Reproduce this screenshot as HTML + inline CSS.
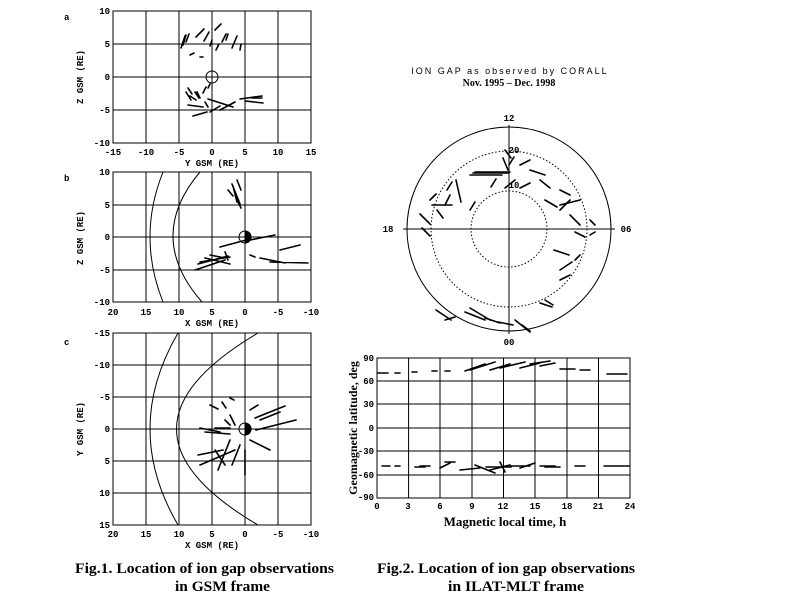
<!DOCTYPE html>
<html><head><style>
body{margin:0;background:#fff;}
svg{display:block;font-family:"Liberation Sans",sans-serif;}
.t{font-size:9px;font-weight:bold;font-family:"Liberation Mono",monospace;}
.cap{font-family:"Liberation Serif",serif;font-size:15px;font-weight:bold;}
</style></head><body>
<svg width="800" height="600" viewBox="0 0 800 600" xmlns="http://www.w3.org/2000/svg">
<g stroke="#000" fill="none" stroke-width="1">
<rect x="113" y="11" width="198" height="132"/>
<path d="M146 11V143M179 11V143M212 11V143M245 11V143M278 11V143M113 44H311M113 77H311M113 110H311"/>
<circle cx="212" cy="77" r="6"/>
<rect x="113" y="172" width="198" height="130"/>
<path d="M146 172V302M179 172V302M212 172V302M245 172V302M278 172V302M113 205H311M113 237H311M113 270H311"/>
<path d="M163 172 Q137 237 163 302"/>
<path d="M200 172 Q145 237 202 302"/>
<circle cx="245" cy="237" r="6"/>
<path d="M245 231 A6 6 0 0 1 245 243Z" fill="#000"/>
<rect x="113" y="333" width="198" height="192"/>
<path d="M146 333V525M179 333V525M212 333V525M245 333V525M278 333V525M113 365H311M113 397H311M113 429H311M113 461H311M113 493H311"/>
<path d="M178 333 Q122 429 178 525"/>
<path d="M258 333 Q95 429 258 525"/>
<circle cx="245" cy="429" r="6"/>
<path d="M245 423 A6 6 0 0 1 245 435Z" fill="#000"/>
<circle cx="509" cy="229" r="102"/>
<circle cx="509" cy="229" r="78" stroke-dasharray="1.5 2"/>
<circle cx="509" cy="229" r="38" stroke-dasharray="1.5 2"/>
<path d="M403 229H615M509 125V334"/>
<rect x="377" y="358" width="253" height="140"/>
<path d="M377 381H630M377 404H630M377 428H630M377 451H630M377 475H630"/>
<path d="M408.6 358V498M440 358V498M472 358V498M503.5 358V498M535 358V498M567 358V498M598.5 358V498"/>
</g>
<g stroke="#000" stroke-width="1.6" fill="none" stroke-linecap="round">
<path d="M181 48l4-12M183 45l3-10M186 42l3-8M196 37l8-8M204 41l5-9M215 30l6-6M222 42l4-8M232 48l5-12M240 50l1-6M219 44l-3 6M212 40l-2 6M190 55l4-2M200 57l3 0M226 40l2-6"/>
<path d="M186 92l5 8M188 88l4 6M190 96l6 4M200 98l-3-6M203 93l3-6M208 88l2-4M208 99l25 8M220 110l15-8M210 112l10-6M193 116l14-4M240 99l22-3M245 101l18 2M205 102l3 5M195 92l4 6M252 98l10 0M188 105l15 2"/>
<path d="M233 186l4 16M236 198l5 10M228 190l5 6M232 184l8 20M237 180l4 10M220 247l30-8M250 240l25-5M195 270l30-10M200 262l30-5M205 258l25 6M260 258l25 5M270 262l38 1M280 250l20-5M198 264l30-8M210 255l15 3M250 255l5 2M225 252l3 8"/>
<path d="M210 405l8 4M222 402l4 6M230 398l4 2M250 410l8-5M255 418l30-12M256 430l40-10M240 445l-8 20M230 440l-12 30M205 432l25 2M200 428l20 4M215 450l10 15M250 440l20 10M225 420l5 5M245 450l0 25M198 455l25-5M200 465l35-15M215 428l15 0M260 420l20-8M230 415l5 10"/>
<path d="M473 173h35M447 190l5-8M432 205h20M456 180l5 22M491 187l5-8M509 165l5-8M520 188l10-5M545 200l12 7M560 210l10-10M554 250l15 5M515 320l15 12M540 303l12 4M470 308l20 12M485 318l15 5"/>
<path d="M475 172h35M470 175h32M503 158l5 12M505 150l6 8M520 165l10-5M530 170l15 5M540 180l10 8M560 190l10 5M450 195l-5 10M430 200l6 -6M437 210l6 8M420 214l10 10M422 228l8 8M470 210l5-8M505 188l10-8M560 205l20-5M570 215l10 10M575 232l10 5M560 270l12-8M522 325l8 6M545 300l8 5M560 280l10-5M436 310l15 10M445 320l10-3M465 312l20 8M498 322l15 3M590 220l5 5M590 235l5-3M580 255l-5 5"/>
<path d="M378 373h10M395 373h5M412 372h5M432 371h5M445 371h5M465 371l20-7M490 370l20-6M520 368l20-5M540 366l15-3M382 466h8M395 466h5M415 467h10M440 468l10-5M460 470l20-2M486 467h25M510 466h20M540 466h15M604 466h25M607 374h20"/>
<path d="M470 370l25-8M500 368l25-6M530 364l20-3M560 369h15M580 370h10M475 465l20 8M490 470l20-5M520 468l15-5M545 467h15M575 466h10M420 466h10M445 462h10M500 462l5 10"/>
</g>
<g class="t" fill="#000">
<text x="64" y="20">a</text><text x="64" y="181">b</text><text x="64" y="345">c</text>
<g text-anchor="end"><text x="110" y="14">10</text><text x="110" y="47">5</text><text x="110" y="80">0</text><text x="110" y="113">-5</text><text x="110" y="146">-10</text>
<text x="110" y="175">10</text><text x="110" y="208">5</text><text x="110" y="240">0</text><text x="110" y="273">-5</text><text x="110" y="305">-10</text>
<text x="110" y="336">-15</text><text x="110" y="368">-10</text><text x="110" y="400">-5</text><text x="110" y="432">0</text><text x="110" y="464">5</text><text x="110" y="496">10</text><text x="110" y="528">15</text>
<text x="374" y="361">90</text><text x="374" y="384">60</text><text x="374" y="407">30</text><text x="374" y="431">0</text><text x="374" y="454">-30</text><text x="374" y="478">-60</text><text x="374" y="500">-90</text></g>
<g text-anchor="middle">
<text x="113" y="155">-15</text><text x="146" y="155">-10</text><text x="179" y="155">-5</text><text x="212" y="155">0</text><text x="245" y="155">5</text><text x="278" y="155">10</text><text x="311" y="155">15</text>
<text x="212" y="166">Y GSM (RE)</text>
<text x="113" y="315">20</text><text x="146" y="315">15</text><text x="179" y="315">10</text><text x="212" y="315">5</text><text x="245" y="315">0</text><text x="278" y="315">-5</text><text x="311" y="315">-10</text>
<text x="212" y="326">X GSM (RE)</text>
<text x="113" y="537">20</text><text x="146" y="537">15</text><text x="179" y="537">10</text><text x="212" y="537">5</text><text x="245" y="537">0</text><text x="278" y="537">-5</text><text x="311" y="537">-10</text>
<text x="212" y="548">X GSM (RE)</text>
<text x="509" y="121">12</text><text x="509" y="345">00</text><text x="514" y="153">20</text><text x="514" y="188">10</text>
<text x="377" y="509">0</text><text x="408" y="509">3</text><text x="440" y="509">6</text><text x="472" y="509">9</text><text x="503" y="509">12</text><text x="535" y="509">15</text><text x="567" y="509">18</text><text x="598" y="509">21</text><text x="630" y="509">24</text>
</g>
<text x="388" y="232" text-anchor="middle">18</text><text x="626" y="232" text-anchor="middle">06</text>
<text transform="translate(83 77) rotate(-90)" text-anchor="middle">Z GSM (RE)</text>
<text transform="translate(83 238) rotate(-90)" text-anchor="middle">Z GSM (RE)</text>
<text transform="translate(83 429) rotate(-90)" text-anchor="middle">Y GSM (RE)</text>
</g>
<text x="510" y="74" text-anchor="middle" font-size="9" letter-spacing="2" font-family="Liberation Sans,sans-serif">ION GAP as observed by CORALL</text>
<text x="509" y="86" text-anchor="middle" font-size="10" font-weight="bold" font-family="Liberation Serif,serif">Nov. 1995 – Dec. 1998</text>
<text x="505" y="526" text-anchor="middle" font-size="13" font-weight="bold" font-family="Liberation Serif,serif">Magnetic local time, h</text>
<text transform="translate(357 428) rotate(-90)" text-anchor="middle" font-size="12" font-weight="bold" font-family="Liberation Serif,serif">Geomagnetic latitude, deg</text>
<text class="cap" x="75" y="573" textLength="259" lengthAdjust="spacingAndGlyphs">Fig.1. Location of ion gap observations</text>
<text class="cap" x="175" y="591" textLength="95" lengthAdjust="spacingAndGlyphs">in GSM frame</text>
<text class="cap" x="377" y="573" textLength="258" lengthAdjust="spacingAndGlyphs">Fig.2. Location of ion gap observations</text>
<text class="cap" x="448" y="591" textLength="136" lengthAdjust="spacingAndGlyphs">in ILAT-MLT frame</text>
</svg>
</body></html>
